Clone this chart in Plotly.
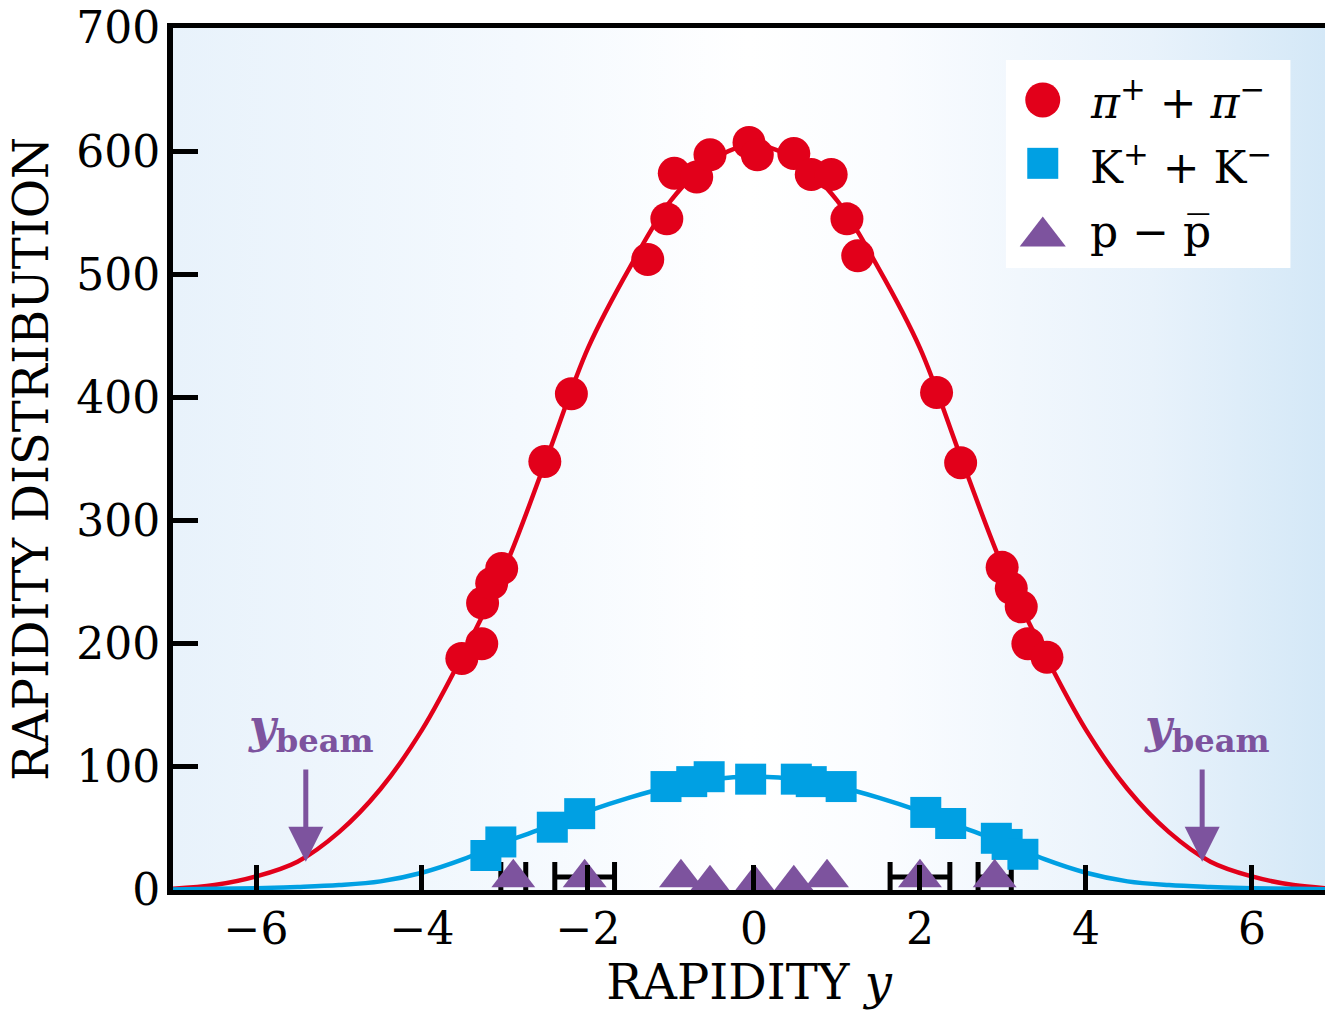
import plotly.graph_objects as go

# ---------------- data ----------------
PION_Y = [-3.52, -3.28, -3.27, -3.16, -3.04, -2.52, -2.20, -1.28, -1.05, -0.96, -0.69, -0.53,
          -0.06, 0.04, 0.48, 0.69, 0.93, 1.12, 1.25, 2.20, 2.49, 2.99, 3.10, 3.22, 3.30, 3.53]
PION_N = [188, 200, 233, 249, 261, 348, 403, 512, 545, 582, 579, 597,
          607, 597, 598, 581, 581, 545, 515, 404, 347, 262, 245, 230, 200, 189]

KAON_Y = [-3.23, -3.05, -2.43, -2.10, -1.06, -0.75, -0.54, -0.04, 0.51, 0.69, 1.05,
          2.07, 2.37, 2.92, 3.05, 3.24]
KAON_N = [28, 39, 51, 62, 84, 88, 92, 90, 90, 88, 84, 63, 54, 42, 37, 29]

PROTON_Y = [-2.90, -2.04, -0.88, -0.53, 0.01, 0.48, 0.88, 2.00, 2.90]
PROTON_N = [10, 10, 10, 5, 5, 5, 10, 10, 10]
PROTON_DY = [0.15, 0.36, 0, 0, 0, 0, 0, 0.36, 0.20]

FIT_Y = [-7.0, -6.5, -6.0, -5.5, -5.0, -4.5, -4.0, -3.5, -3.0, -2.5, -2.0, -1.5, -1.0, -0.5, 0.0,
         0.5, 1.0, 1.5, 2.0, 2.5, 3.0, 3.5, 4.0, 4.5, 5.0, 5.5, 6.0, 6.5, 7.0]
PION_FIT = [1, 4, 11, 23, 47, 82, 130, 192, 262, 350, 440, 505, 560, 593, 605,
            593, 560, 505, 440, 350, 262, 192, 130, 82, 47, 23, 11, 4, 1]
KAON_FIT = [0.5, 1, 1.5, 2.5, 4, 7, 14, 25, 39, 51, 64, 75, 84, 90, 92,
            90, 84, 75, 64, 51, 39, 25, 14, 7, 4, 2.5, 1.5, 1, 0.5]

YBEAM = 5.4
YBEAM_ARROW = [23, 99]  # arrow tip / tail heights

X_RANGE = [-7, 6.88]
Y_RANGE = [0, 700]
X_TICKS = [-6, -4, -2, 0, 2, 4, 6]
Y_TICKS = [0, 100, 200, 300, 400, 500, 600, 700]

LEGEND_LABELS = ["<i>π</i><sup>+</sup> + <i>π</i><sup>−</sup>",
                 "K<sup>+</sup> + K<sup>−</sup>",
                 "p − p\u0305"]

# ---------------- styles ----------------
RED = "#e2001a"
BLUE = "#00a0e3"
PURPLE = "#7d539e"
FONT = "DejaVu Serif"

fig = go.Figure()

# plot-area background gradient
fig.add_trace(go.Scatter(
    x=[X_RANGE[0], X_RANGE[1], X_RANGE[1], X_RANGE[0]],
    y=[Y_RANGE[0], Y_RANGE[0], Y_RANGE[1], Y_RANGE[1]],
    fill="toself", mode="none", hoverinfo="skip", showlegend=False,
    fillgradient=dict(type="horizontal",
                      colorscale=[[0, "#e8f2fb"], [0.3, "#f4f9fe"], [0.5, "#ffffff"],
                                  [0.62, "#fafcff"], [0.85, "#e8f2fb"], [1, "#d4e8f7"]]),
))

# fit curves
fig.add_trace(go.Scatter(x=FIT_Y, y=PION_FIT, mode="lines", line=dict(color=RED, width=4.5, shape="spline"),
                         showlegend=False, hoverinfo="skip"))
fig.add_trace(go.Scatter(x=FIT_Y, y=KAON_FIT, mode="lines", line=dict(color=BLUE, width=4.5, shape="spline"),
                         showlegend=False, hoverinfo="skip"))

# proton error bars (only points with a width)
err_idx = [i for i, d in enumerate(PROTON_DY) if d > 0]
fig.add_trace(go.Scatter(
    x=[PROTON_Y[i] for i in err_idx], y=[PROTON_N[i] + 0.5 for i in err_idx],
    mode="markers", marker=dict(size=1, opacity=0), showlegend=False, hoverinfo="skip",
    error_x=dict(type="data", array=[PROTON_DY[i] for i in err_idx], color="black",
                 thickness=5, width=15),
    cliponaxis=False,
))

# data points
fig.add_trace(go.Scatter(x=PION_Y, y=PION_N, mode="markers", name="pi",
                         marker=dict(symbol="circle", size=33, color=RED, opacity=1, line=dict(width=0)),
                         showlegend=False, cliponaxis=False))
fig.add_trace(go.Scatter(x=KAON_Y, y=KAON_N, mode="markers", name="K",
                         marker=dict(symbol="square", size=31, color=BLUE, opacity=1, line=dict(width=0)),
                         showlegend=False, cliponaxis=False))
fig.add_trace(go.Scatter(x=PROTON_Y, y=PROTON_N, mode="markers", name="p",
                         marker=dict(symbol="triangle-up", size=38, color=PURPLE, opacity=1, line=dict(width=0)),
                         showlegend=False, cliponaxis=False))

# custom legend (large symbols) on an invisible overlay axis spanning the plot area
LEG_BOX_X = [0.723, 0.970, 0.970, 0.723]
LEG_BOX_Y = [0.7216, 0.7216, 0.963, 0.963]
fig.add_trace(go.Scatter(x=LEG_BOX_X, y=LEG_BOX_Y, xaxis="x2", yaxis="y2", fill="toself",
                         fillcolor="white", mode="none", showlegend=False, hoverinfo="skip"))
LEG_X = 0.755
LEG_ROWS = [0.9165, 0.843, 0.758]
fig.add_trace(go.Scatter(
    x=[LEG_X] * 3, y=LEG_ROWS, xaxis="x2", yaxis="y2", mode="markers",
    marker=dict(symbol=["circle", "square", "triangle-up"], size=[35, 31, 40],
                color=[RED, BLUE, PURPLE], opacity=1, line=dict(width=0)),
    showlegend=False, hoverinfo="skip", cliponaxis=False,
))

annotations = []
for lab, yy in zip(LEGEND_LABELS, [0.9165, 0.842, 0.764]):
    annotations.append(dict(xref="paper", yref="paper", x=0.794, y=yy, xanchor="left", yanchor="middle",
                            text=lab, showarrow=False, font=dict(family=FONT, size=44, color="black")))

# y_beam arrows and labels
for sgn in (-1, 1):
    annotations.append(dict(x=sgn * YBEAM, y=YBEAM_ARROW[0], ax=sgn * YBEAM, ay=YBEAM_ARROW[1],
                            xref="x", yref="y", axref="x", ayref="y", text="", showarrow=True,
                            arrowhead=2, arrowsize=1.4, arrowwidth=5, arrowcolor=PURPLE))
    annotations.append(dict(x=sgn * YBEAM + 0.06, y=130, xref="x", yref="y", showarrow=False,
                            text="<b><i>y</i><sub>beam</sub></b>",
                            font=dict(family=FONT, size=46, color=PURPLE)))

fig.update_layout(
    width=1325, height=1010,
    margin=dict(l=173, r=0, t=28, b=120),
    paper_bgcolor="white", plot_bgcolor="white",
    font=dict(family=FONT, size=44, color="black"),
    showlegend=False,
    annotations=annotations,
    xaxis=dict(range=X_RANGE, tickvals=X_TICKS, ticks="inside", ticklen=25, tickwidth=5, tickcolor="black",
               showline=True, linewidth=5, linecolor="black", mirror=True, showgrid=False, zeroline=False,
               tickfont=dict(family=FONT, size=44), ticklabelstandoff=-4,
               title=dict(text="RAPIDITY <i>y</i>", font=dict(family=FONT, size=48), standoff=8)),
    yaxis=dict(range=Y_RANGE, tickvals=Y_TICKS, ticks="inside", ticklen=25, tickwidth=5, tickcolor="black",
               showline=True, linewidth=6, linecolor="black", showgrid=False, zeroline=False,
               tickfont=dict(family=FONT, size=44), ticklabelstandoff=-2,
               title=dict(text="RAPIDITY DISTRIBUTION", font=dict(family=FONT, size=48), standoff=14)),
    xaxis2=dict(overlaying="x", range=[0, 1], visible=False),
    yaxis2=dict(overlaying="y", range=[0, 1], visible=False),
)

fig.write_html("out.html", config={"displayModeBar": False},
               post_script="document.body.style.margin='0px';document.body.style.overflow='hidden';")
